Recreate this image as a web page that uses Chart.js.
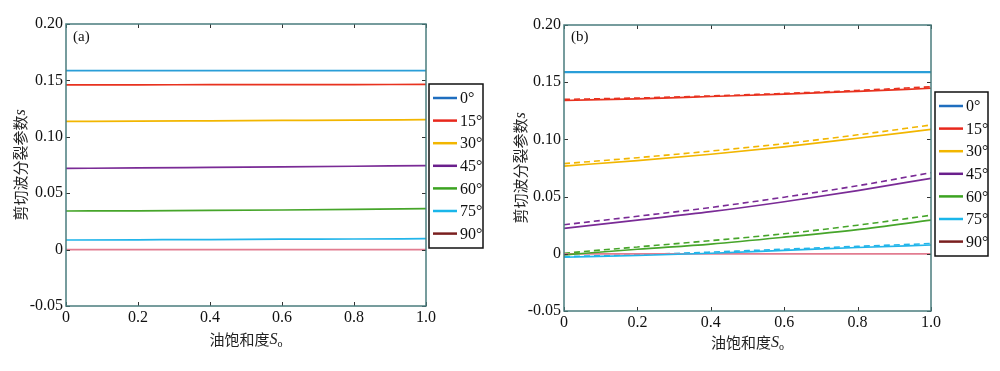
<!DOCTYPE html>
<html>
<head>
<meta charset="utf-8">
<script src="https://cdn.jsdelivr.net/npm/chart.js@4/dist/chart.umd.min.js"></script>
<style>
  html, body { margin: 0; padding: 0; background: #fff; }
  #wrap { position: relative; width: 1000px; height: 371px; }
  .panel { position: absolute; top: 0; width: 500px; height: 371px; }
</style>
</head>
<body>
<div id="wrap">
  <div class="panel" style="left:0"><canvas id="chartA" width="500" height="371"></canvas></div>
  <div class="panel" style="left:500px"><canvas id="chartB" width="500" height="371"></canvas></div>
</div>
<script>
// x axis: oil saturation So
var satX = [0, 0.2, 0.4, 0.6, 0.8, 1.0];
var angleLabels = ['0°', '15°', '30°', '45°', '60°', '75°', '90°'];
var yTicks = [-0.05, 0, 0.05, 0.10, 0.15, 0.20];
var xTicks = [0, 0.2, 0.4, 0.6, 0.8, 1.0];

// legend colours and slightly lighter colours the lines look like in the picture
var legendColors = ['#1f6ebf', '#e8281c', '#f2b600', '#6a1f8c', '#3ca321', '#1ab6ea', '#7a1f1f'];
var lineColors   = ['#2a9ed8', '#e8321f', '#f2b600', '#7a2b96', '#46a52a', '#22b5ea', '#e27c90'];

// panel (a)
var a00 = [0.1586, 0.1586, 0.1586, 0.1586, 0.1586, 0.1586];
var a15 = [0.1461, 0.1461, 0.1462, 0.1462, 0.1463, 0.1464];
var a30 = [0.1137, 0.1139, 0.1142, 0.1145, 0.1148, 0.1152];
var a45 = [0.0720, 0.0724, 0.0729, 0.0734, 0.0739, 0.0744];
var a60 = [0.0342, 0.0344, 0.0347, 0.0351, 0.0356, 0.0363];
var a75 = [0.0085, 0.0087, 0.0089, 0.0092, 0.0094, 0.0097];
var a90 = [0, 0, 0, 0, 0, 0];

// panel (b), solid lines
var b00 = [0.1588, 0.1588, 0.1588, 0.1588, 0.1588, 0.1588];
var b15 = [0.1340, 0.1355, 0.1375, 0.1395, 0.1420, 0.1447];
var b30 = [0.0767, 0.0815, 0.0870, 0.0935, 0.1010, 0.1088];
var b45 = [0.0223, 0.0295, 0.0368, 0.0455, 0.0552, 0.0660];
var b60 = [-0.0010, 0.0040, 0.0085, 0.0145, 0.0212, 0.0295];
var b75 = [-0.0030, -0.0015, 0.0005, 0.0030, 0.0055, 0.0077];
var b90 = [0, 0, 0, 0, 0, 0];
// panel (b), dashed lines
var d15 = [0.1350, 0.1362, 0.1380, 0.1402, 0.1428, 0.1460];
var d30 = [0.0788, 0.0840, 0.0898, 0.0963, 0.1040, 0.1126];
var d45 = [0.0254, 0.0328, 0.0405, 0.0495, 0.0595, 0.0709];
var d60 = [0.0005, 0.0060, 0.0115, 0.0175, 0.0250, 0.0337];
var d75 = [-0.0025, -0.0008, 0.0015, 0.0040, 0.0065, 0.0090];

function series(vals, color, dashed, width) {
  return {
    data: vals.map(function (v, i) { return { x: satX[i], y: v }; }),
    borderColor: color,
    borderWidth: width || 1.7,
    borderDash: dashed ? [6, 4] : [],
    pointRadius: 0,
    fill: false,
    cubicInterpolationMode: 'monotone'
  };
}

function line(ctx, x1, y1, x2, y2) {
  ctx.beginPath(); ctx.moveTo(x1, y1); ctx.lineTo(x2, y2); ctx.stroke();
}

// frame, inward ticks, panel tag, boxed legend and axis titles
var decor = {
  id: 'decor',
  afterDraw: function (chart, args, o) {
    var ctx = chart.ctx, a = chart.chartArea, xs = chart.scales.x, ys = chart.scales.y;
    ctx.save();
    ctx.strokeStyle = '#333'; ctx.lineWidth = 1;
    ys.ticks.forEach(function (t) {
      var y = Math.round(ys.getPixelForValue(t.value)) + 0.5;
      line(ctx, a.left, y, a.left + 4, y);
      line(ctx, a.right - 4, y, a.right, y);
    });
    xs.ticks.forEach(function (t) {
      var x = Math.round(xs.getPixelForValue(t.value)) + 0.5;
      line(ctx, x, a.bottom, x, a.bottom - 4);
      line(ctx, x, a.top, x, a.top + 4);
    });
    ctx.strokeStyle = '#4a7c7d'; ctx.lineWidth = 1.5;
    ctx.strokeRect(a.left, a.top, a.right - a.left, a.bottom - a.top);

    // panel tag
    ctx.fillStyle = '#111';
    ctx.font = '15px "Liberation Serif"';
    ctx.textAlign = 'left'; ctx.textBaseline = 'middle';
    ctx.fillText(o.tag, a.left + 7, 37);

    // legend box
    var bx = a.right + o.gap, by = o.top, bw = o.w, bh = 164;
    ctx.fillStyle = '#fff'; ctx.fillRect(bx, by, bw, bh);
    ctx.strokeStyle = '#111'; ctx.lineWidth = 1.5;
    ctx.strokeRect(bx, by, bw, bh);
    ctx.lineWidth = 2.5;
    ctx.font = '16px "Liberation Serif"';
    angleLabels.forEach(function (lab, i) {
      var y = by + 14 + i * 22.6;
      ctx.strokeStyle = legendColors[i];
      line(ctx, bx + 4, y, bx + 28, y);
      ctx.fillStyle = '#111';
      ctx.fillText(lab, bx + 31, y + 1);
    });

    // y title
    ctx.save();
    ctx.translate(o.yTitleX, (a.top + a.bottom) / 2);
    ctx.rotate(-Math.PI / 2);
    ctx.font = '15px "Noto Sans CJK SC"';
    var t1 = '剪切波分裂参数';
    var w1 = ctx.measureText(t1).width;
    ctx.font = 'italic 16px "Liberation Serif"';
    var w2 = ctx.measureText('s').width;
    var sx = -(w1 + w2) / 2;
    ctx.fillStyle = '#222';
    ctx.font = '15px "Noto Sans CJK SC"';
    ctx.fillText(t1, sx, 0);
    ctx.font = 'italic 16px "Liberation Serif"';
    ctx.fillText('s', sx + w1, 1);
    ctx.restore();

    // x title
    ctx.fillStyle = '#222';
    ctx.font = '15px "Noto Sans CJK SC"';
    var x1 = '油饱和度';
    var xw1 = ctx.measureText(x1).width;
    ctx.font = 'italic 16px "Liberation Serif"';
    var xw2 = ctx.measureText('S').width;
    ctx.font = '10px "Liberation Serif"';
    var xw3 = ctx.measureText('o').width;
    var cx = (a.left + a.right) / 2 - (xw1 + xw2 + xw3) / 2;
    var cy = o.xTitleY;
    ctx.font = '15px "Noto Sans CJK SC"';
    ctx.fillText(x1, cx, cy);
    ctx.font = 'italic 16px "Liberation Serif"';
    ctx.fillText('S', cx + xw1, cy + 1);
    ctx.font = '10px "Liberation Serif"';
    ctx.fillText('o', cx + xw1 + xw2, cy + 5);
    ctx.restore();
  }
};

function makeChart(id, datasets, pad, decorOpts) {
  return new Chart(document.getElementById(id).getContext('2d'), {
    type: 'line',
    data: { datasets: datasets },
    plugins: [decor],
    options: {
      responsive: false,
      animation: false,
      devicePixelRatio: 1,
      layout: { padding: pad },
      plugins: {
        legend: { display: false },
        tooltip: { enabled: false },
        decor: decorOpts
      },
      scales: {
        x: {
          type: 'linear', min: 0, max: 1,
          afterBuildTicks: function (s) { s.ticks = xTicks.map(function (v) { return { value: v }; }); },
          afterFit: function (s) { s.height = 24; },
          grid: { display: false, drawTicks: false },
          border: { display: false },
          ticks: {
            padding: 2, color: '#111', maxRotation: 0,
            font: { family: 'Liberation Serif', size: 16 },
            callback: function (v) { return v === 0 ? '0' : v.toFixed(1); }
          }
        },
        y: {
          type: 'linear', min: -0.05, max: 0.2,
          afterBuildTicks: function (s) { s.ticks = yTicks.map(function (v) { return { value: v }; }); },
          afterFit: function (s) { s.width = 46; },
          grid: { display: false, drawTicks: false },
          border: { display: false },
          ticks: {
            padding: 3, color: '#111',
            font: { family: 'Liberation Serif', size: 16 },
            callback: function (v) { return Math.abs(v) < 1e-9 ? '0' : v.toFixed(2); }
          }
        }
      }
    }
  });
}

var aData = [a00, a15, a30, a45, a60, a75, a90].map(function (v, i) {
  return series(v, lineColors[i], false, 1.7);
});
makeChart('chartA', aData,
  { left: 20, right: 74, top: 24, bottom: 41 },
  { tag: '(a)', gap: 3, top: 84, w: 54, yTitleX: 20, xTitleY: 339 });

var bSolid = [b00, b15, b30, b45, b60, b75, b90].map(function (v, i) {
  return series(v, lineColors[i], false, i === 0 ? 2.2 : 1.7);
});
var bDash = [d15, d30, d45, d60, d75].map(function (v, i) {
  return series(v, lineColors[i + 1], true, 1.6);
});
makeChart('chartB', bSolid.concat(bDash),
  { left: 18, right: 69, top: 25, bottom: 36 },
  { tag: '(b)', gap: 4, top: 92, w: 53, yTitleX: 20, xTitleY: 342 });
</script>
</body>
</html>
